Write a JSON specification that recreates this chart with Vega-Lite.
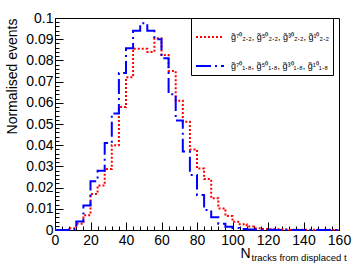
{
  "$schema": "https://vega.github.io/schema/vega-lite/v6.json",
  "width": 284,
  "height": 212,
  "autosize": {"type": "none"},
  "padding": {"left": 55, "top": 18, "right": 16, "bottom": 36},
  "background": "white",
  "config": {
    "view": {"stroke": "#000", "strokeWidth": 1},
    "font": "Liberation Sans",
    "axis": {"domainColor": "#000", "tickColor": "#000", "labelColor": "#000", "titleColor": "#000", "grid": false, "labelFont": "Liberation Sans", "titleFont": "Liberation Sans", "titleFontWeight": "normal", "labelFlush": false, "labelOverlap": false, "tickWidth": 1, "domainWidth": 1},
    "legend": {"title": null, "orient": "none", "legendX": 136, "legendY": 0, "direction": "vertical", "symbolType": "stroke", "symbolSize": 784, "symbolStrokeWidth": 2,
      "labelFontSize": 9, "labelFont": "Liberation Sans", "labelColor": "#000", "strokeColor": "#000", "fillColor": "#fff", "padding": 4, "rowPadding": 9, "labelOffset": 6, "labelLimit": 300}
  },
  "data": {"values": [
    {"x": 0, "y": 0, "s": "2.2"}, {"x": 4, "y": 0, "s": "2.2"}, {"x": 8, "y": 0.0008, "s": "2.2"}, {"x": 12, "y": 0.003, "s": "2.2"},
    {"x": 16, "y": 0.007, "s": "2.2"}, {"x": 20, "y": 0.017, "s": "2.2"}, {"x": 24, "y": 0.021, "s": "2.2"}, {"x": 28, "y": 0.0288, "s": "2.2"},
    {"x": 32, "y": 0.040, "s": "2.2"}, {"x": 36, "y": 0.058, "s": "2.2"}, {"x": 40, "y": 0.072, "s": "2.2"}, {"x": 44, "y": 0.0855, "s": "2.2"},
    {"x": 48, "y": 0.0855, "s": "2.2"}, {"x": 52, "y": 0.084, "s": "2.2"}, {"x": 56, "y": 0.0905, "s": "2.2"}, {"x": 60, "y": 0.0825, "s": "2.2"},
    {"x": 64, "y": 0.075, "s": "2.2"}, {"x": 68, "y": 0.061, "s": "2.2"}, {"x": 72, "y": 0.0511, "s": "2.2"}, {"x": 76, "y": 0.038, "s": "2.2"},
    {"x": 80, "y": 0.029, "s": "2.2"}, {"x": 84, "y": 0.024, "s": "2.2"}, {"x": 88, "y": 0.015, "s": "2.2"}, {"x": 92, "y": 0.0102, "s": "2.2"},
    {"x": 96, "y": 0.0066, "s": "2.2"}, {"x": 100, "y": 0.0039, "s": "2.2"}, {"x": 104, "y": 0.0027, "s": "2.2"}, {"x": 108, "y": 0.0016, "s": "2.2"},
    {"x": 112, "y": 0.0008, "s": "2.2"}, {"x": 116, "y": 0.0005, "s": "2.2"}, {"x": 120, "y": 0.0003, "s": "2.2"}, {"x": 124, "y": 0.0003, "s": "2.2"},
    {"x": 128, "y": 0.0002, "s": "2.2"}, {"x": 132, "y": 0.0001, "s": "2.2"}, {"x": 136, "y": 0.0001, "s": "2.2"}, {"x": 140, "y": 0.0001, "s": "2.2"},
    {"x": 144, "y": 0.0001, "s": "2.2"}, {"x": 148, "y": 0, "s": "2.2"}, {"x": 152, "y": 0.0001, "s": "2.2"}, {"x": 156, "y": 0, "s": "2.2"},
    {"x": 160, "y": 0, "s": "2.2"},
    {"x": 0, "y": 0, "s": "1.8"}, {"x": 4, "y": 0, "s": "1.8"}, {"x": 8, "y": 0.0003, "s": "1.8"}, {"x": 12, "y": 0.004, "s": "1.8"},
    {"x": 16, "y": 0.0115, "s": "1.8"}, {"x": 20, "y": 0.023, "s": "1.8"}, {"x": 24, "y": 0.028, "s": "1.8"}, {"x": 28, "y": 0.041, "s": "1.8"},
    {"x": 32, "y": 0.055, "s": "1.8"}, {"x": 36, "y": 0.074, "s": "1.8"}, {"x": 40, "y": 0.0857, "s": "1.8"}, {"x": 44, "y": 0.094, "s": "1.8"},
    {"x": 48, "y": 0.0975, "s": "1.8"}, {"x": 52, "y": 0.094, "s": "1.8"}, {"x": 56, "y": 0.090, "s": "1.8"}, {"x": 60, "y": 0.081, "s": "1.8"},
    {"x": 64, "y": 0.064, "s": "1.8"}, {"x": 68, "y": 0.0516, "s": "1.8"}, {"x": 72, "y": 0.037, "s": "1.8"}, {"x": 76, "y": 0.026, "s": "1.8"},
    {"x": 80, "y": 0.0165, "s": "1.8"}, {"x": 84, "y": 0.0094, "s": "1.8"}, {"x": 88, "y": 0.006, "s": "1.8"}, {"x": 92, "y": 0.003, "s": "1.8"},
    {"x": 96, "y": 0.0015, "s": "1.8"}, {"x": 100, "y": 0.001, "s": "1.8"}, {"x": 104, "y": 0.0005, "s": "1.8"}, {"x": 108, "y": 0.0002, "s": "1.8"},
    {"x": 112, "y": 0.0002, "s": "1.8"}, {"x": 116, "y": 0.0001, "s": "1.8"}, {"x": 120, "y": 0.0001, "s": "1.8"}, {"x": 124, "y": 0, "s": "1.8"},
    {"x": 128, "y": 0.0001, "s": "1.8"}, {"x": 132, "y": 0, "s": "1.8"}, {"x": 136, "y": 0, "s": "1.8"}, {"x": 140, "y": 0, "s": "1.8"},
    {"x": 144, "y": 0, "s": "1.8"}, {"x": 148, "y": 0, "s": "1.8"}, {"x": 152, "y": 0, "s": "1.8"}, {"x": 156, "y": 0, "s": "1.8"},
    {"x": 160, "y": 0, "s": "1.8"}
  ]},
  "layer": [
    {
      "transform": [{"filter": "datum.s === '2.2'"}],
      "mark": {"type": "line", "interpolate": "step-after", "strokeWidth": 2},
      "encoding": {
        "x": {"field": "x", "type": "quantitative", "scale": {"domain": [0, 160], "nice": false, "zero": false},
          "axis": {"orient": "bottom", "values": [0, 20, 40, 60, 80, 100, 120, 140, 160], "tickSize": -8, "labelFontSize": 14, "labelPadding": 11,
            "title": "N", "titleFontSize": 14, "titleX": 195, "titleY": 27, "titleAlign": "right", "titleBaseline": "alphabetic"}},
        "y": {"field": "y", "type": "quantitative", "scale": {"domain": [0, 0.1], "nice": false},
          "axis": {"orient": "left", "values": [0, 0.01, 0.02, 0.03, 0.04, 0.05, 0.06, 0.07, 0.08, 0.09, 0.1], "tickSize": -8, "labelFontSize": 14, "labelPadding": 10,
            "labelExpr": "format(datum.value, '.2~f')",
            "title": "Normalised events", "titleFontSize": 14, "titleX": -39, "titleY": 0, "titleAngle": 270, "titleAlign": "right", "titleBaseline": "alphabetic"}},
        "color": {"field": "s", "type": "nominal", "scale": {"domain": ["2.2", "1.8"], "range": ["#ff0000", "#0000ff"]},
          "legend": {"labelExpr": "datum.value === '2.2' ? 'g\u0303\u2077\u2070\u2082.\u2082, g\u0303\u2075\u2070\u2082.\u2082, g\u0303\u00b3\u2070\u2082.\u2082, g\u0303\u00b9\u2070\u2082.\u2082' : 'g\u0303\u2077\u2070\u2081.\u2088, g\u0303\u2075\u2070\u2081.\u2088, g\u0303\u00b3\u2070\u2081.\u2088, g\u0303\u00b9\u2070\u2081.\u2088'"}},
        "strokeDash": {"field": "s", "type": "nominal", "scale": {"domain": ["2.2", "1.8"], "range": [[2, 2], [15, 4, 2, 4]]},
          "legend": {"labelExpr": "datum.value === '2.2' ? 'g\u0303\u2077\u2070\u2082.\u2082, g\u0303\u2075\u2070\u2082.\u2082, g\u0303\u00b3\u2070\u2082.\u2082, g\u0303\u00b9\u2070\u2082.\u2082' : 'g\u0303\u2077\u2070\u2081.\u2088, g\u0303\u2075\u2070\u2081.\u2088, g\u0303\u00b3\u2070\u2081.\u2088, g\u0303\u00b9\u2070\u2081.\u2088'"}}
      }
    },
    {
      "transform": [{"filter": "datum.s === '1.8'"}],
      "mark": {"type": "line", "interpolate": "step-after", "strokeWidth": 2},
      "encoding": {
        "x": {"field": "x", "type": "quantitative", "scale": {"domain": [0, 160], "nice": false, "zero": false},
          "axis": {"orient": "bottom", "values": [0, 4, 8, 12, 16, 20, 24, 28, 32, 36, 40, 44, 48, 52, 56, 60, 64, 68, 72, 76, 80, 84, 88, 92, 96, 100, 104, 108, 112, 116, 120, 124, 128, 132, 136, 140, 144, 148, 152, 156, 160],
            "tickSize": -4, "labels": false, "domain": false,
            "title": "tracks from displaced t", "titleFontSize": 9.5, "titleX": 196, "titleY": 30, "titleAlign": "left", "titleBaseline": "alphabetic"}},
        "y": {"field": "y", "type": "quantitative", "scale": {"domain": [0, 0.1], "nice": false},
          "axis": {"orient": "left", "values": [0, 0.002, 0.004, 0.006, 0.008, 0.01, 0.012, 0.014, 0.016, 0.018, 0.02, 0.022, 0.024, 0.026, 0.028, 0.03, 0.032, 0.034, 0.036, 0.038, 0.04, 0.042, 0.044, 0.046, 0.048, 0.05, 0.052, 0.054, 0.056, 0.058, 0.06, 0.062, 0.064, 0.066, 0.068, 0.07, 0.072, 0.074, 0.076, 0.078, 0.08, 0.082, 0.084, 0.086, 0.088, 0.09, 0.092, 0.094, 0.096, 0.098, 0.1],
            "tickSize": -4, "labels": false, "domain": false, "title": null}},
        "color": {"field": "s", "type": "nominal", "scale": {"domain": ["2.2", "1.8"], "range": ["#ff0000", "#0000ff"]},
          "legend": {"labelExpr": "datum.value === '2.2' ? 'g\u0303\u2077\u2070\u2082.\u2082, g\u0303\u2075\u2070\u2082.\u2082, g\u0303\u00b3\u2070\u2082.\u2082, g\u0303\u00b9\u2070\u2082.\u2082' : 'g\u0303\u2077\u2070\u2081.\u2088, g\u0303\u2075\u2070\u2081.\u2088, g\u0303\u00b3\u2070\u2081.\u2088, g\u0303\u00b9\u2070\u2081.\u2088'"}},
        "strokeDash": {"field": "s", "type": "nominal", "scale": {"domain": ["2.2", "1.8"], "range": [[2, 2], [15, 4, 2, 4]]},
          "legend": {"labelExpr": "datum.value === '2.2' ? 'g\u0303\u2077\u2070\u2082.\u2082, g\u0303\u2075\u2070\u2082.\u2082, g\u0303\u00b3\u2070\u2082.\u2082, g\u0303\u00b9\u2070\u2082.\u2082' : 'g\u0303\u2077\u2070\u2081.\u2088, g\u0303\u2075\u2070\u2081.\u2088, g\u0303\u00b3\u2070\u2081.\u2088, g\u0303\u00b9\u2070\u2081.\u2088'"}}
      }
    }
  ],
  "resolve": {"axis": {"x": "independent", "y": "independent"}}
}
